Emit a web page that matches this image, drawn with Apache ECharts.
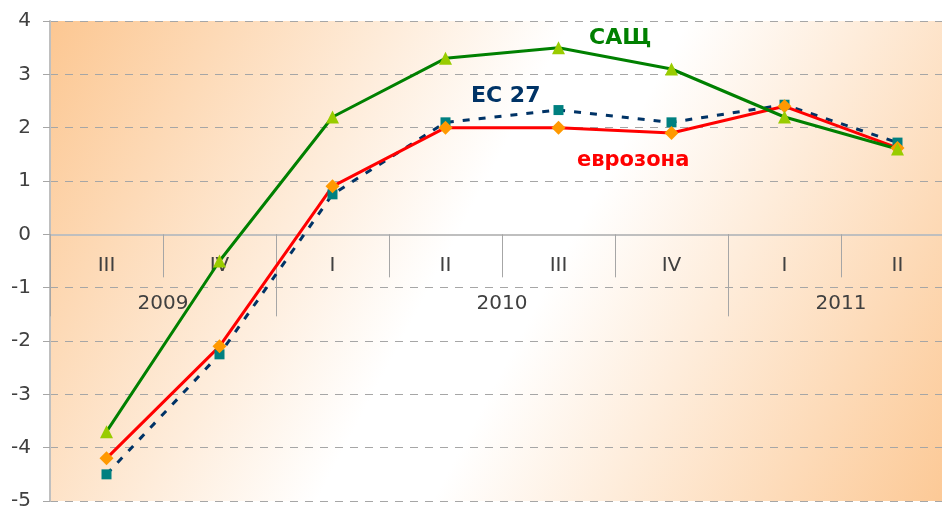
<!DOCTYPE html>
<html>
<head>
<meta charset="utf-8">
<script src="https://cdn.jsdelivr.net/npm/echarts@6/dist/echarts.min.js"></script>
<style>
  html, body { margin: 0; padding: 0; background: #fff; }
  #chart { width: 942px; height: 509px; }
</style>
</head>
<body>
<div id="chart"></div>
<script>
const quarters = ['III', 'IV', 'I', 'II', 'III', 'IV', 'I', 'II']
const years = ['2009', '2010', '2011']
const quartersPerYear = [2, 4, 2]

const usa = [-3.7, -0.5, 2.2, 3.3, 3.5, 3.1, 2.2, 1.6]
const eu27 = [-4.5, -2.25, 0.75, 2.1, 2.33, 2.1, 2.43, 1.72]
const eurozone = [-4.2, -2.1, 0.9, 2.0, 2.0, 1.9, 2.4, 1.62]

const yMin = -5
const yMax = 4

// year row: half-quarter slots, labels centred over each year's quarters
const slotCount = quarters.length * 2 + 1
const yearSlots = new Array(slotCount).fill('')
const boundarySlots = [0]
let start = 0
years.forEach((y, i) => {
  yearSlots[start * 2 + quartersPerYear[i]] = y
  start += quartersPerYear[i]
  boundarySlots.push(start * 2)
})

const gridTop = 21
const gridBottom = 8
const plotHeight = 509 - gridTop - gridBottom
// pull both category rows onto the zero line
const zeroFromBottom = plotHeight * (0 - yMin) / (yMax - yMin)
const zeroFromTop = plotHeight * (yMax - 0) / (yMax - yMin)

const font = '"DejaVu Sans", Verdana, sans-serif'
const axisText = { fontFamily: font, fontSize: 20, color: '#404040' }

const chart = echarts.init(document.getElementById('chart'))

const option = {
  animation: false,
  grid: {
    left: 50,
    top: gridTop,
    right: -12,
    bottom: gridBottom,
    outerBoundsMode: 'none',
    containLabel: false,
    show: true,
    borderWidth: 0,
    backgroundColor: new echarts.graphic.LinearGradient(0, 0, 1, 1, [
      { offset: 0, color: '#fcc792' },
      { offset: 0.45, color: '#ffffff' },
      { offset: 0.55, color: '#ffffff' },
      { offset: 1, color: '#fcc894' }
    ])
  },
  xAxis: [
    {
      type: 'category',
      position: 'bottom',
      offset: -zeroFromBottom,
      data: quarters,
      boundaryGap: true,
      axisLine: { onZero: false, lineStyle: { color: '#bfbfbf', width: 2 } },
      axisTick: { show: true, interval: 0, length: 43, lineStyle: { color: '#a6a6a6', width: 1 } },
      axisLabel: { interval: 0, margin: 21, ...axisText },
      splitLine: { show: false }
    },
    {
      type: 'category',
      position: 'top',
      offset: -zeroFromTop,
      data: yearSlots,
      boundaryGap: false,
      axisLine: { show: false, onZero: false },
      axisTick: {
        show: true,
        inside: true,
        length: 82,
        interval: (i) => boundarySlots.includes(i),
        lineStyle: { color: '#a6a6a6', width: 1 }
      },
      axisLabel: {
        inside: true,
        margin: 59,
        interval: (i, v) => v !== '',
        ...axisText
      },
      splitLine: { show: false }
    }
  ],
  yAxis: {
    type: 'value',
    min: yMin,
    max: yMax,
    interval: 1,
    axisLine: { show: true, onZero: false, lineStyle: { color: '#bfbfbf', width: 2 } },
    axisTick: { show: true, length: 7, lineStyle: { color: '#a6a6a6' } },
    axisLabel: { margin: 19, ...axisText },
    splitLine: { lineStyle: { color: '#a6a6a6', type: [8, 7], width: 1 } }
  },
  series: [
    {
      name: 'ЕС 27',
      type: 'line',
      data: eu27,
      symbol: 'rect',
      symbolSize: 10,
      showSymbol: true,
      lineStyle: { color: '#003366', width: 3, type: [7, 9] },
      itemStyle: { color: '#008080' }
    },
    {
      name: 'еврозона',
      type: 'line',
      data: eurozone,
      symbol: 'diamond',
      symbolSize: 14,
      showSymbol: true,
      lineStyle: { color: '#ff0000', width: 3 },
      itemStyle: { color: '#ff9900' }
    },
    {
      name: 'САЩ',
      type: 'line',
      data: usa,
      symbol: 'triangle',
      symbolSize: 13,
      showSymbol: true,
      lineStyle: { color: '#008000', width: 3 },
      itemStyle: { color: '#99cc00' }
    }
  ],
  graphic: [
    { type: 'text', left: 589, top: 27, z: 100,
      style: { text: 'САЩ', font: 'bold 22px ' + font, fill: '#008000' } },
    { type: 'text', left: 471, top: 85, z: 100,
      style: { text: 'ЕС 27', font: 'bold 22px ' + font, fill: '#003366' } },
    { type: 'text', left: 577, top: 150, z: 100,
      style: { text: 'еврозона', font: 'bold 21px ' + font, fill: '#ff0000' } }
  ]
}

chart.setOption(option)
</script>
</body>
</html>
